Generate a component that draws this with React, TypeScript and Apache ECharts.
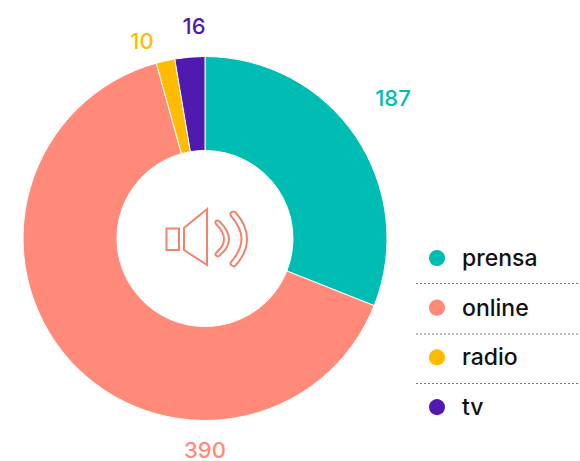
import React, { useEffect, useRef } from "react";
import * as echarts from "echarts";

const categories = ["prensa", "online", "radio", "tv"];
const values = [187, 390, 10, 16];
const colors = ["#00BDB3", "#FF8A7A", "#FFBB00", "#5019B0"];
const labelPositions = [
  [393, 98],
  [205, 449.5],
  [142, 41],
  [194, 26],
];
const separatorYs = [283.5, 334, 383.5];
const FONT = "Inter, 'Open Sans', sans-serif";
const ICON = "#F2836B";

echarts.graphic.registerShape(
  "waveSmall",
  echarts.graphic.extendPath(
    "M216 224 C214 221 218 219 220 222 C226 228 229 233 229 239 C229 245 226 250 220 255 C218 258 214 255 216 253 C222 247 224 244 224 239 C224 234 222 230 216 224 Z",
    {}
  )
);
echarts.graphic.registerShape(
  "waveBig",
  echarts.graphic.extendPath(
    "M231 216 C229 212 234 210 236 213 C243 221 247 230 247 239 C247 248 243 257 236 265 C234 268 229 265 231 262 C238 254 241.5 247 241.5 239 C241.5 231 238 224 231 216 Z",
    {}
  )
);

export default function App() {
  const ref = useRef<HTMLDivElement>(null);
  useEffect(() => {
    const chart = echarts.init(ref.current!, null, { renderer: "svg" });
    const iconStyle = { fill: "transparent", stroke: ICON, lineWidth: 2 };
    chart.setOption({
      animation: false,
      backgroundColor: "#ffffff",
      legend: {
        orient: "vertical",
        left: 427,
        top: 246.5,
        padding: 0,
        icon: "circle",
        itemWidth: 18,
        itemHeight: 18,
        itemGap: 26.7,
        selectedMode: false,
        data: categories,
        textStyle: {
          fontFamily: FONT,
          fontSize: 23,
          fontWeight: 500,
          color: "#111111",
          padding: [0, 0, 0, 11],
        },
      },
      graphic: [
        ...separatorYs.map((y) => ({
          type: "line",
          silent: true,
          shape: { x1: 416, y1: y, x2: 579, y2: y },
          style: { stroke: "#777777", lineWidth: 1, lineDash: [2, 2] },
        })),
        { type: "rect", shape: { x: 166.5, y: 228.5, width: 12.5, height: 21.5 }, style: iconStyle },
        {
          type: "polygon",
          shape: { points: [[184, 228], [207, 209], [207, 265], [184, 250]] },
          style: iconStyle,
        },
        { type: "waveSmall", style: { fill: "transparent", stroke: ICON, lineWidth: 2 } },
        { type: "waveBig", style: { fill: "transparent", stroke: ICON, lineWidth: 2 } },
      ],
      series: [
        {
          type: "pie",
          center: [205, 238.5],
          radius: [88, 182],
          startAngle: 90,
          clockwise: true,
          avoidLabelOverlap: false,
          data: categories.map((name, i) => ({
            name,
            value: values[i],
            itemStyle: { color: colors[i] },
            label: { color: colors[i] },
          })),
          itemStyle: { borderColor: "#ffffff", borderWidth: 1 },
          labelLine: { show: false },
          emphasis: { disabled: true },
          label: {
            show: true,
            position: "outside",
            formatter: "{c}",
            fontFamily: FONT,
            fontSize: 22,
            fontWeight: 500,
          },
          labelLayout: (p: any) => ({
            x: labelPositions[p.dataIndex][0],
            y: labelPositions[p.dataIndex][1],
            align: "center",
            verticalAlign: "middle",
          }),
        },
      ],
    });
    return () => chart.dispose();
  }, []);
  return <div ref={ref} style={{ position: "absolute", left: 0, top: 0, width: 580, height: 461 }} />;
}
